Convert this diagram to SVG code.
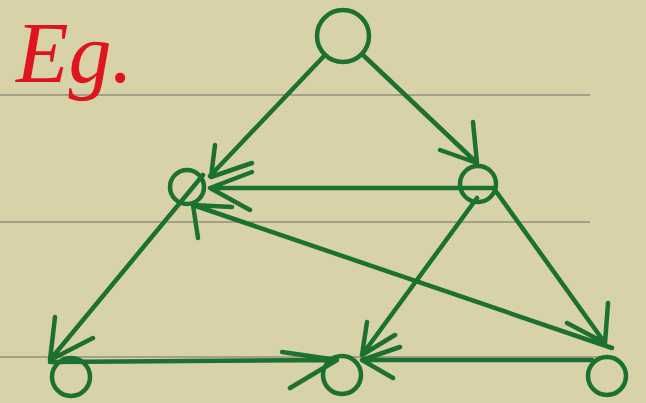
<svg xmlns="http://www.w3.org/2000/svg" width="646" height="403" viewBox="0 0 646 403">
<style>
.rule{stroke:#a39f88;stroke-width:2;fill:none}
.node{fill:none;stroke:#1c7030;stroke-width:4.5}
.edge{fill:none;stroke:#1c7030;stroke-width:4.5;stroke-linecap:round;stroke-linejoin:round}
.label{font-family:"Liberation Serif",serif;font-style:italic;font-size:86px;fill:#e0141e}
</style>
<rect width="646" height="403" fill="#d8d2a8"/>
<g id="rules">
<line class="rule" x1="0" y1="95" x2="590" y2="95"/>
<line class="rule" x1="0" y1="222" x2="590" y2="222"/>
<line class="rule" x1="0" y1="357" x2="600" y2="357"/>
</g>
<text class="label" x="16" y="82">Eg.</text>
<g id="connectors">
<path class="edge" d="M325,55 L210,176 M215,145 L211,177 L252,163"/>
<path class="edge" d="M363,55 L477,163 M473,122 L477,163 L440,150"/>
<path class="edge" d="M493,188 L210,188 M252,172 L210,188 L250,210"/>
<path class="edge" d="M203,175 L50,360 M55,317 L50,360 L93,338"/>
<path class="edge" d="M477,198 L362,355 M367,322 L362,355 L395,335"/>
<path class="edge" d="M495,190 L605,343 M608,303 L605,343 L567,323"/>
<path class="edge" d="M612,348 L193,205 M232,207 L193,205 L198,238"/>
<path class="edge" d="M50,362 L337,360 M282,352 L337,360 L290,388"/>
<path class="edge" d="M592,360 L362,360 M400,347 L362,360 L393,378"/>
</g>
<g id="n-top"><circle class="node" cx="343" cy="36" r="26"/></g>
<g id="n-left-mid"><circle class="node" cx="187" cy="187" r="17"/></g>
<g id="n-right-mid"><circle class="node" cx="478" cy="184" r="18"/></g>
<g id="n-bottom-left"><circle class="node" cx="71" cy="377" r="19"/></g>
<g id="n-bottom-mid"><circle class="node" cx="342" cy="375" r="19"/></g>
<g id="n-bottom-right"><circle class="node" cx="607" cy="376" r="19"/></g>
</svg>
